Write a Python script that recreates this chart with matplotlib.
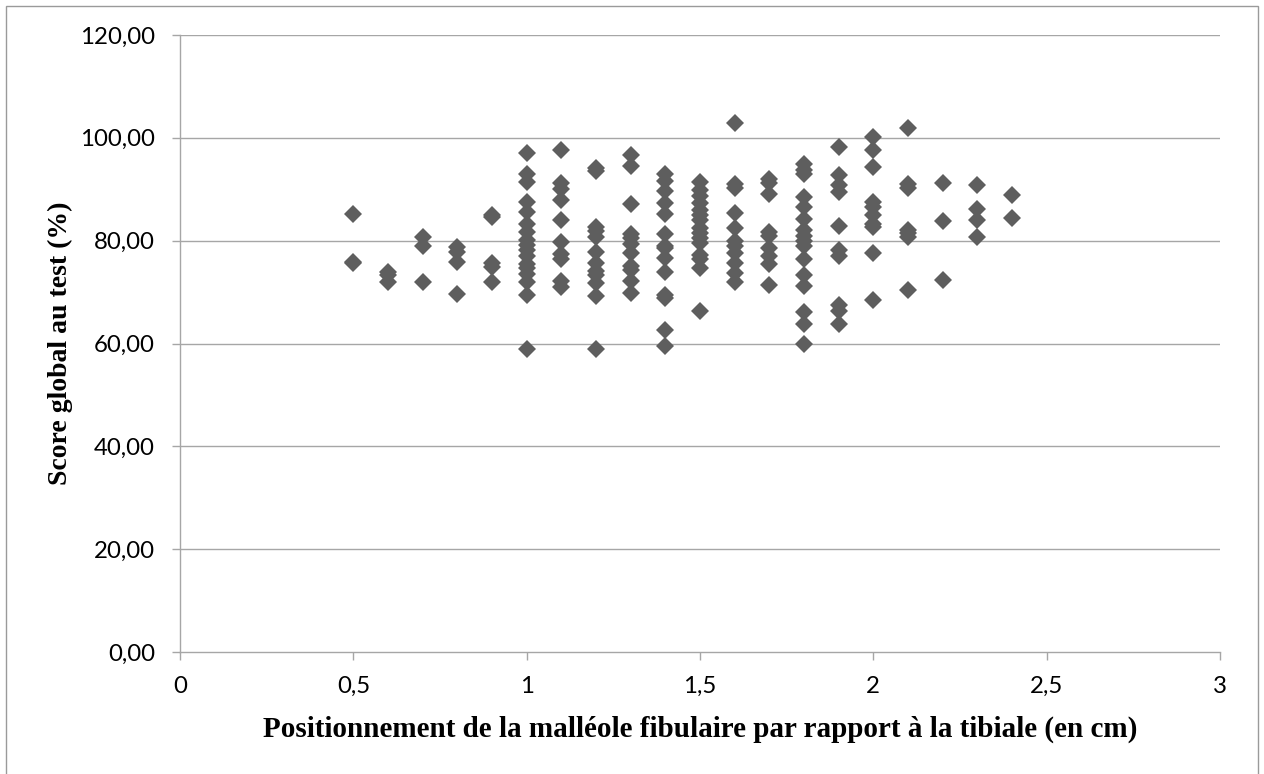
import matplotlib
matplotlib.use("Agg")
import matplotlib.pyplot as plt
from matplotlib.patches import Rectangle

# Fibular malleolus position (cm) and global test scores (%) per position
positions = [0.5, 0.6, 0.7, 0.8, 0.9, 1.0, 1.1, 1.2, 1.3, 1.4, 1.5, 1.6,
             1.7, 1.8, 1.9, 2.0, 2.1, 2.2, 2.3, 2.4]
scores_05 = [85.2, 75.9, 75.6]
scores_06 = [74.0, 73.3, 71.9]
scores_07 = [80.7, 78.9, 72.0]
scores_08 = [78.7, 77.8, 75.9, 69.6]
scores_09 = [85.0, 84.7, 75.7, 74.9, 72.0]
scores_10 = [97.0, 93.0, 91.4, 87.5, 85.6, 83.3, 81.7, 80.1, 79.1, 78.1,
             77.0, 75.5, 74.6, 73.6, 72.0, 69.5, 59.0]
scores_11 = [97.7, 91.3, 90.0, 88.0, 84.0, 79.7, 77.5, 76.5, 72.1, 70.9]
scores_12 = [94.2, 93.5, 82.7, 81.8, 80.8, 77.8, 75.7, 74.1, 73.4, 71.8,
             69.2, 58.9]
scores_13 = [96.6, 94.6, 87.1, 81.2, 80.6, 79.4, 77.6, 75.0, 74.3, 72.1, 69.9]
scores_14 = [93.0, 91.6, 89.6, 87.3, 85.1, 81.3, 79.0, 78.5, 76.6, 74.0,
             69.4, 68.9, 62.7, 59.6]
scores_15 = [91.4, 89.8, 88.7, 87.3, 86.0, 85.0, 84.1, 82.5, 81.4, 80.5,
             79.5, 77.3, 76.4, 74.7, 66.4]
scores_16 = [102.8, 91.0, 90.2, 85.4, 82.5, 79.9, 78.9, 77.6, 75.7, 73.7, 71.9]
scores_17 = [92.0, 91.3, 89.0, 81.6, 81.0, 78.5, 77.0, 75.4, 71.4]
scores_18 = [94.9, 93.7, 93.0, 88.5, 86.6, 84.2, 82.1, 81.0, 80.0, 79.0,
             76.4, 73.3, 71.2, 66.2, 63.8, 60.0]
scores_19 = [98.2, 92.8, 90.8, 89.4, 82.8, 78.2, 77.1, 67.4, 66.4, 63.8]
scores_20 = [100.1, 97.7, 94.4, 87.6, 86.5, 85.0, 83.2, 82.6, 77.6, 68.5]
scores_21 = [101.9, 91.0, 90.2, 82.0, 81.4, 80.8, 70.5]
scores_22 = [91.2, 83.8, 72.3]
scores_23 = [90.9, 86.2, 84.0, 80.8]
scores_24 = [88.8, 84.5]

score_groups = [scores_05, scores_06, scores_07, scores_08, scores_09,
                scores_10, scores_11, scores_12, scores_13, scores_14,
                scores_15, scores_16, scores_17, scores_18, scores_19,
                scores_20, scores_21, scores_22, scores_23, scores_24]

x_ticks = [0, 0.5, 1, 1.5, 2, 2.5, 3]
x_tick_labels = ["0", "0,5", "1", "1,5", "2", "2,5", "3"]
y_ticks = [0, 20, 40, 60, 80, 100, 120]
y_tick_labels = ["0,00", "20,00", "40,00", "60,00", "80,00", "100,00", "120,00"]

xs, ys = [], []
for p, grp in zip(positions, score_groups):
    xs.extend([p] * len(grp))
    ys.extend(grp)

W, H = 1264, 774
fig = plt.figure(figsize=(W / 100, H / 100), dpi=100)
ax = fig.add_axes([180 / W, 1 - 652 / H, (1220 - 180) / W, (652 - 35) / H])

grid_c = "#a6a6a6"
ax.set_xlim(0, 3)
ax.set_ylim(0, 120)
for yv in y_ticks[1:]:
    ax.axhline(yv, color=grid_c, lw=1.0, zorder=1)

ax.plot(xs, ys, linestyle="none", marker="D", markersize=9.6,
        color="#5e5e5e", markeredgewidth=0, zorder=3)

for s in ["top", "right"]:
    ax.spines[s].set_visible(False)
for s in ["left", "bottom"]:
    ax.spines[s].set_color(grid_c)
    ax.spines[s].set_linewidth(1.0)

tick_font = dict(family="Lato", size=17.3, color="black")
ax.set_xticks(x_ticks)
ax.set_xticklabels(x_tick_labels, **tick_font)
ax.set_yticks(y_ticks)
ax.set_yticklabels(y_tick_labels, **tick_font)
ax.tick_params(axis="both", direction="out", length=6, width=1.0,
               color=grid_c)
ax.tick_params(axis="x", pad=11)
ax.tick_params(axis="y", pad=12)

ax.set_xlabel("Positionnement de la malléole fibulaire par rapport à la tibiale (en cm)",
              labelpad=14, family="Liberation Serif", weight="bold",
              size=21, color="black")
ax.set_ylabel("Score global au test (%)", labelpad=5,
              family="Liberation Serif", weight="bold", size=20,
              color="black")

fig.patches.append(Rectangle((6 / W, -0.02), (1258 - 6) / W, 1 - 6 / H + 0.02,
                             transform=fig.transFigure, fill=False,
                             edgecolor="#9a9a9a", lw=1.0))

fig.savefig("out.png", dpi=100)
